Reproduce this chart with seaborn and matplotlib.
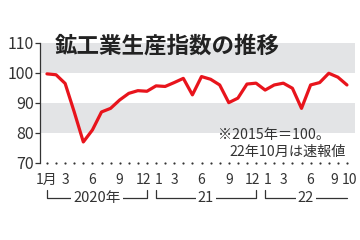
import matplotlib
matplotlib.use("Agg")
import matplotlib.pyplot as plt
import matplotlib.transforms as mtransforms
import seaborn as sns
import pandas as pd
import numpy as np

sns.set_theme(style="white")
plt.rcParams['font.family'] = ['Noto Sans CJK JP', 'DejaVu Sans']

# Data (2015=100), Jan 2020 .. Oct 2022
values = [99.7, 99.4, 96.5, 87.0, 77.0, 81.0, 87.0, 88.2, 91.0, 93.2, 94.1, 93.9,
          95.7, 95.5, 96.8, 98.2, 92.7, 98.8, 97.9, 96.0, 90.1, 91.6, 96.3, 96.6,
          94.3, 96.0, 96.6, 94.9, 88.2, 96.0, 96.8, 99.9, 98.6, 96.0]
months = list(range(len(values)))
tick_pos = [0, 2, 5, 8, 11, 12, 14, 17, 20, 23, 24, 26, 29, 32, 33]
tick_labels = ['1月', '3', '6', '9', '12', '1', '3', '6', '9', '12', '1', '3', '6', '9', '10']
years = ['2020年', '21', '22']
year_spans = [(0, 11), (12, 23), (24, 33)]
yticks = [70, 80, 90, 100, 110]
title = '鉱工業生産指数の推移'
notes = ['※2015年＝100。', '22年10月は速報値']

df = pd.DataFrame({'month': months, 'value': values})

fig = plt.figure(figsize=(3.6, 2.4), dpi=100)
ax = fig.add_axes([0.111, 0.321, 0.875, 0.500])

grey = '#e3e4e6'
ax.axhspan(100, 110, color=grey, lw=0, zorder=0)
ax.axhspan(80, 90, color=grey, lw=0, zorder=0)

sns.lineplot(data=df, x='month', y='value', ax=ax, color='#e8141c', lw=2.3,
             zorder=3)

ax.set_xlim(-0.77, 33.88)
ax.set_ylim(70, 110)
ax.set_xlabel('')
ax.set_ylabel('')

for s in ['top', 'right', 'bottom']:
    ax.spines[s].set_visible(False)
ax.spines['left'].set_color('#333333')
ax.spines['left'].set_linewidth(0.9)

ax.set_yticks(yticks)
ax.set_yticklabels([str(v) for v in yticks], fontsize=11.5, color='#333333')
ax.tick_params(axis='y', length=3.5, width=0.9, color='#333333', pad=1, left=True)

ax.set_xticks(tick_pos)
ax.set_xticklabels(tick_labels, fontsize=10, color='#333333')
ax.tick_params(axis='x', length=0, pad=7, bottom=False)

# nudge crowded adjacent labels apart (in points)
nudges = {4: -2.5, 5: 1.5, 9: -2.5, 10: 1.5, 13: -2.5, 14: 2.0}
for i, lab in enumerate(ax.get_xticklabels()):
    if i in nudges:
        lab.set_transform(lab.get_transform() +
                          mtransforms.ScaledTranslation(nudges[i] / 72, 0, fig.dpi_scale_trans))

# dotted baseline
ax.scatter(months, [70] * len(months), s=2.5, color='#333333', clip_on=False,
           zorder=4, linewidths=0)

trans = ax.get_xaxis_transform()
ybr = -0.29
for label, (a, b) in zip(years, year_spans):
    xs = [a, a, b]
    ys = [-0.225, ybr, ybr]
    if b != 33:
        xs.append(b)
        ys.append(-0.225)
    ax.plot(xs, ys, transform=trans, color='#333333', lw=0.9, clip_on=False)
    ax.text((a + b) / 2, ybr, label, transform=trans, ha='center', va='center',
            fontsize=10.5, color='#333333',
            bbox=dict(boxstyle='square,pad=0.15', fc='white', ec='none'))

fig.text(0.152, 0.808, title, fontsize=16.2, fontweight='bold', color='#222222',
         va='center', ha='left')

ax.text(18.8, 79.3, notes[0], fontsize=10.2, color='#333333', va='center', ha='left')
ax.text(20.1, 73.6, notes[1], fontsize=10.2, color='#333333', va='center', ha='left')

fig.savefig('out.png', dpi=100, facecolor='white')
